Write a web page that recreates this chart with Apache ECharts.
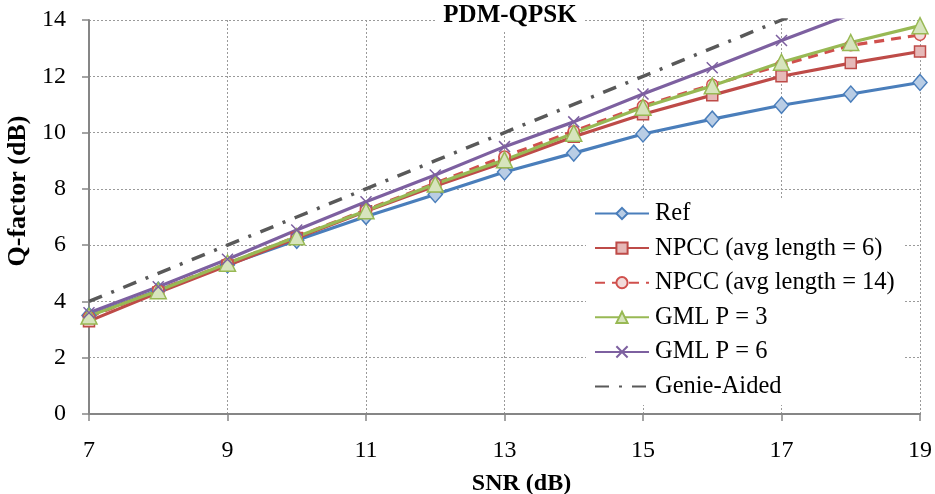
<!DOCTYPE html>
<html>
<head>
<meta charset="utf-8">
<script src="https://cdn.jsdelivr.net/npm/echarts@6/dist/echarts.min.js"></script>
<style>
html,body{margin:0;padding:0;background:#fff;}
#main{width:935px;height:494px;}
</style>
</head>
<body>
<div id="main"></div>
<script>
// SNR (dB) 横轴
var snr = [7, 8, 9, 10, 11, 12, 13, 14, 15, 16, 17, 18, 19];
var xTicks = [7, 9, 11, 13, 15, 17, 19];
var yTicks = [0, 2, 4, 6, 8, 10, 12, 14];

// Q-factor (dB)
var refQ     = [3.5, 4.4, 5.3, 6.17, 7.02, 7.8, 8.6, 9.27, 9.95, 10.48, 10.97, 11.37, 11.78];
var npcc6Q   = [3.3, 4.32, 5.28, 6.25, 7.2, 8.1, 8.95, 9.85, 10.65, 11.33, 12.0, 12.47, 12.88];
var npcc14Q  = [3.45, 4.4, 5.35, 6.3, 7.25, 8.2, 9.15, 10.05, 10.95, 11.7, 12.4, 13.1, 13.47];
var gml3Q    = [3.48, 4.38, 5.36, 6.3, 7.22, 8.17, 9.03, 9.98, 10.9, 11.66, 12.5, 13.2, 13.8];
var gml6Q    = [3.6, 4.52, 5.5, 6.54, 7.54, 8.49, 9.5, 10.38, 11.37, 12.3, 13.27, 14.2, 15.1];
var genieQ   = [4, 5, 6, 7, 8, 9, 10, 11, 12, 13, 14, 15, 16];

var font = "'Liberation Serif', 'Times New Roman', serif";

function pairs(ys) {
    var out = [];
    for (var i = 0; i < snr.length; i++) {
        out.push([snr[i], ys[i]]);
    }
    return out;
}

var chart = echarts.init(document.getElementById('main'));

var option = {
    backgroundColor: '#fff',
    animation: false,
    textStyle: { fontFamily: font },
    title: {
        text: 'PDM-QPSK',
        left: 502,
        textAlign: 'center',
        top: 1,
        padding: [2, 8, 2, 8],
        backgroundColor: '#fff',
        textStyle: { fontFamily: font, fontSize: 25, fontWeight: 'bold', color: '#000' }
    },
    grid: { left: 89, right: 15, top: 20, bottom: 80, containLabel: false, outerBoundsMode: 'none' },
    legend: {
        orient: 'vertical',
        left: 586,
        top: 199,
        width: 330,
        padding: [2, 10, 6, 8],
        backgroundColor: '#fff',
        itemWidth: 54,
        itemHeight: 14,
        itemGap: 9.6,
        textStyle: { fontFamily: font, fontSize: 24.5, color: '#000', padding: [0, 0, 0, 1] },
        data: ['Ref', 'NPCC (avg length = 6)', 'NPCC (avg length = 14)', 'GML P = 3', 'GML P = 6',
            { name: 'Genie-Aided', itemStyle: { opacity: 0 } }]
    },
    xAxis: {
        type: 'value',
        min: 7,
        max: 19,
        interval: 2,
        name: 'SNR (dB)',
        nameLocation: 'middle',
        nameGap: 58,
        nameTextStyle: { fontFamily: font, fontSize: 24, fontWeight: 'bold', color: '#000', padding: [0, 0, 0, 34] },
        axisLine: { lineStyle: { color: '#868686', width: 2 } },
        axisTick: { show: true, length: 7, lineStyle: { color: '#868686', width: 1.5 } },
        axisLabel: { fontFamily: font, fontSize: 24, color: '#000', margin: 25,
            formatter: function (v) { return xTicks.indexOf(v) >= 0 ? String(v) : ''; } },
        splitLine: { show: true, lineStyle: { color: '#9a9a9a', type: [2, 2], width: 1 } }
    },
    yAxis: {
        type: 'value',
        min: 0,
        max: 14,
        interval: 2,
        name: 'Q-factor (dB)',
        nameLocation: 'middle',
        nameGap: 52,
        nameTextStyle: { fontFamily: font, fontSize: 26, fontWeight: 'bold', color: '#000', padding: [0, 0, 0, 52] },
        axisLine: { show: true, lineStyle: { color: '#868686', width: 2 } },
        axisTick: { show: true, length: 7, lineStyle: { color: '#868686', width: 1.5 } },
        axisLabel: { fontFamily: font, fontSize: 24, color: '#000', margin: 23,
            formatter: function (v) { return yTicks.indexOf(v) >= 0 ? String(v) : ''; } },
        splitLine: { show: true, lineStyle: { color: '#9a9a9a', type: [2, 2], width: 1 } }
    },
    series: [
        {
            name: 'Ref', type: 'line', data: pairs(refQ),
            symbol: 'diamond', symbolSize: [14, 16],
            lineStyle: { color: '#4a7ebb', width: 3.2 },
            itemStyle: { color: '#b9cde5', borderColor: '#4a7ebb', borderWidth: 1.5 }
        },
        {
            name: 'NPCC (avg length = 6)', type: 'line', data: pairs(npcc6Q),
            symbol: 'rect', symbolSize: 11,
            lineStyle: { color: '#be4b48', width: 3.2 },
            itemStyle: { color: '#e6b9b8', borderColor: '#be4b48', borderWidth: 1.5 }
        },
        {
            name: 'NPCC (avg length = 14)', type: 'line', data: pairs(npcc14Q),
            symbol: 'circle', symbolSize: 11,
            lineStyle: { color: '#d0504d', width: 3.2, type: [10, 7] },
            itemStyle: { color: '#f2dcdb', borderColor: '#d0504d', borderWidth: 1.5 }
        },
        {
            name: 'GML P = 3', type: 'line', data: pairs(gml3Q),
            symbol: 'triangle', symbolSize: [16, 16],
            lineStyle: { color: '#98b954', width: 3.2 },
            itemStyle: { color: '#d7e4bd', borderColor: '#98b954', borderWidth: 1.5 }
        },
        {
            name: 'GML P = 6', type: 'line', data: pairs(gml6Q),
            symbol: 'path://M0,0L10,10M10,0L0,10', symbolSize: 11,
            lineStyle: { color: '#7d60a0', width: 3.2 },
            itemStyle: { color: 'none', borderColor: '#7d60a0', borderWidth: 1.5 }
        },
        {
            name: 'Genie-Aided', type: 'line', data: pairs(genieQ),
            symbol: 'none', showSymbol: false,
            lineStyle: { color: '#595959', width: 3.5, type: [14, 10, 3, 10] },
            itemStyle: { color: '#595959' }
        }
    ]
};

chart.setOption(option);
</script>
</body>
</html>
